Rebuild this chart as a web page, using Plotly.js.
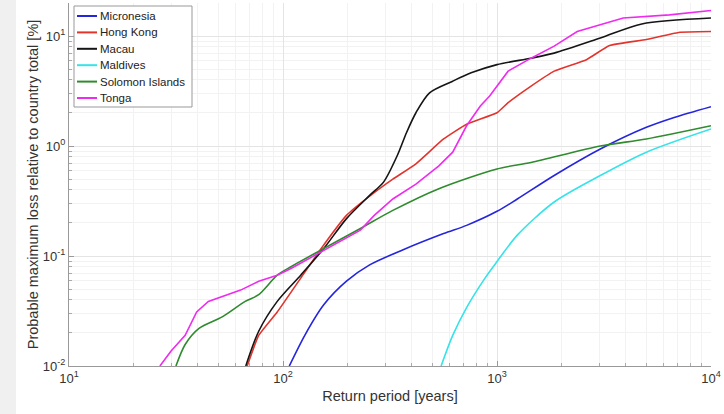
<!DOCTYPE html>
<html>
<head>
<meta charset="utf-8">
<script src="https://cdn.plot.ly/plotly-3.0.1.min.js"></script>
<style>html,body{margin:0;padding:0;background:#fff;}#chart{width:724px;height:414px;}</style>
</head>
<body>
<div id="chart"></div>
<script>
// Return periods [years] and losses [%] per country
const micronesiaX = [107, 127, 155, 198, 254, 360, 563, 721, 1000, 1244, 1850, 3040, 4990, 6730, 10000];
const micronesiaY = [0.01, 0.0193, 0.036, 0.059, 0.083, 0.113, 0.160, 0.19, 0.255, 0.33, 0.54, 0.94, 1.48, 1.82, 2.28];

const hongKongX = [68, 77, 94, 121, 155, 198, 254, 326, 418, 563, 721, 1000, 1127, 1443, 1850, 2618, 3357, 4990, 7060, 10000];
const hongKongY = [0.01, 0.019, 0.031, 0.063, 0.126, 0.234, 0.35, 0.50, 0.69, 1.16, 1.58, 2.01, 2.48, 3.51, 4.8, 6.1, 8.2, 9.3, 10.8, 11.0];

const macauX = [67, 77, 94, 121, 155, 198, 254, 295, 342, 378, 418, 484, 621, 757, 1000, 1443, 1850, 3040, 4750, 10000];
const macauY = [0.01, 0.0207, 0.0387, 0.067, 0.117, 0.219, 0.356, 0.47, 0.82, 1.33, 2.01, 3.05, 3.89, 4.63, 5.5, 6.3, 7.0, 9.6, 12.9, 14.6];

const maldivesX = [548, 621, 721, 879, 1000, 1244, 1850, 3040, 4990, 10000];
const maldivesY = [0.01, 0.019, 0.034, 0.063, 0.089, 0.155, 0.31, 0.54, 0.88, 1.43];

const solomonX = [31.6, 34.9, 40.5, 52, 66.6, 77, 94, 109, 155, 230, 326, 535, 1000, 1443, 3040, 4990, 10000];
const solomonY = [0.01, 0.0157, 0.022, 0.028, 0.0387, 0.0445, 0.067, 0.080, 0.117, 0.178, 0.26, 0.41, 0.62, 0.71, 1.0, 1.16, 1.53];

const tongaX = [26.6, 30, 34.9, 39.5, 44.8, 52, 63.4, 77, 94, 109, 155, 230, 267, 326, 418, 535, 621, 721, 836, 924, 1127, 1443, 1850, 2370, 3890, 6400, 10000];
const tongaY = [0.01, 0.0137, 0.019, 0.031, 0.0387, 0.043, 0.049, 0.059, 0.067, 0.077, 0.113, 0.172, 0.234, 0.33, 0.45, 0.66, 0.88, 1.53, 2.31, 2.85, 4.8, 6.3, 8.1, 11.0, 14.6, 15.6, 17.1];

const seriesNames = ["Micronesia", "Hong Kong", "Macau", "Maldives", "Solomon Islands", "Tonga"];
const seriesX = [micronesiaX, hongKongX, macauX, maldivesX, solomonX, tongaX];
const seriesY = [micronesiaY, hongKongY, macauY, maldivesY, solomonY, tongaY];
const colors = ["#2525dd", "#e2342c", "#151515", "#35e3e8", "#2e8b2e", "#ee2bee"];
const shapesKind = ["spline", "spline", "spline", "spline", "spline", "linear"];
const smoothings = [0.8, 0.4, 0.8, 0.8, 0.8, 0];

// Tick labels
const xTickVals = [10, 100, 1000, 10000];
const xTickText = ["10<sup>1</sup>", "10<sup>2</sup>", "10<sup>3</sup>", "10<sup>4</sup>"];
const xMinorVals = [20, 30, 40, 50, 60, 70, 80, 90, 200, 300, 400, 500, 600, 700, 800, 900, 2000, 3000, 4000, 5000, 6000, 7000, 8000, 9000];
const yTickVals = [0.01, 0.1, 1, 10];
const yTickText = ["10<sup>-2</sup>", "10<sup>-1</sup>", "10<sup>0</sup>", "10<sup>1</sup>"];
const yMinorVals = [0.02, 0.03, 0.04, 0.05, 0.06, 0.07, 0.08, 0.09, 0.2, 0.3, 0.4, 0.5, 0.6, 0.7, 0.8, 0.9, 2, 3, 4, 5, 6, 7, 8, 9, 20];

const traces = seriesNames.map((n, i) => ({
  x: seriesX[i], y: seriesY[i], name: n, type: "scatter", mode: "lines",
  line: {color: colors[i], width: 1.6, shape: shapesKind[i], smoothing: smoothings[i] || undefined}
}));

const font = {family: "Liberation Sans, Arial, sans-serif", size: 12, color: "#333"};
const mL = 69, mR = 13, mT = 3, mB = 48;
const plotW = 724 - mL - mR, plotH = 414 - mT - mB;
const px = X => (X - mL) / plotW;
const py = Y => 1 - (Y - mT) / plotH;

const axisCommon = {
  type: "log",
  showgrid: true, gridcolor: "#e4e4e4", gridwidth: 1,
  ticks: "inside", ticklen: 5, tickcolor: "#999",
  showline: true, linecolor: "#999", linewidth: 1, zeroline: false,
  tickfont: {size: 13, color: "#333"}
};
const minorCommon = {showgrid: true, gridcolor: "#f2f2f2", ticks: "inside", ticklen: 3, tickcolor: "#aaa"};

// Custom legend (MATLAB-style compact box)
const legShapes = [{type: "rect", xref: "paper", yref: "paper",
  x0: px(74), x1: px(192), y0: py(107), y1: py(6),
  fillcolor: "#fff", line: {color: "#999", width: 1}}];
const legAnn = [];
seriesNames.forEach((n, i) => {
  const Y = 16 + i * 16.4;
  legShapes.push({type: "line", xref: "paper", yref: "paper",
    x0: px(77), x1: px(97), y0: py(Y), y1: py(Y), line: {color: colors[i], width: 2}});
  legAnn.push({xref: "paper", yref: "paper", x: px(98), y: py(Y), xanchor: "left", yanchor: "middle",
    text: n, showarrow: false, font: {family: font.family, size: 11.5, color: "#222"}});
});

const layout = {
  width: 724, height: 414,
  margin: {l: mL, r: mR, t: mT, b: mB},
  paper_bgcolor: "#fff", plot_bgcolor: "#fff",
  font: font,
  showlegend: false,
  xaxis: Object.assign({}, axisCommon, {range: [1, 4], tickvals: xTickVals, ticktext: xTickText,
    minor: Object.assign({}, minorCommon, {tickvals: xMinorVals}),
    title: {text: "Return period [years]", font: {size: 14.5, color: "#333"}, standoff: 6}}),
  yaxis: Object.assign({}, axisCommon, {range: [-2, 1.301], tickvals: yTickVals, ticktext: yTickText,
    minor: Object.assign({}, minorCommon, {tickvals: yMinorVals}),
    title: {text: "Probable maximum loss relative to country total [%]", font: {size: 14.5, color: "#333"}, standoff: 0}}),
  shapes: [{type: "rect", xref: "paper", yref: "paper", layer: "below",
    x0: -mL / plotW, x1: (16 - mL) / plotW, y0: -mB / plotH, y1: 1 + mT / plotH,
    fillcolor: "#f0f0f0", line: {width: 0}}].concat(legShapes),
  annotations: legAnn
};

Plotly.newPlot("chart", traces, layout, {displayModeBar: false, staticPlot: true});
</script>
</body>
</html>
